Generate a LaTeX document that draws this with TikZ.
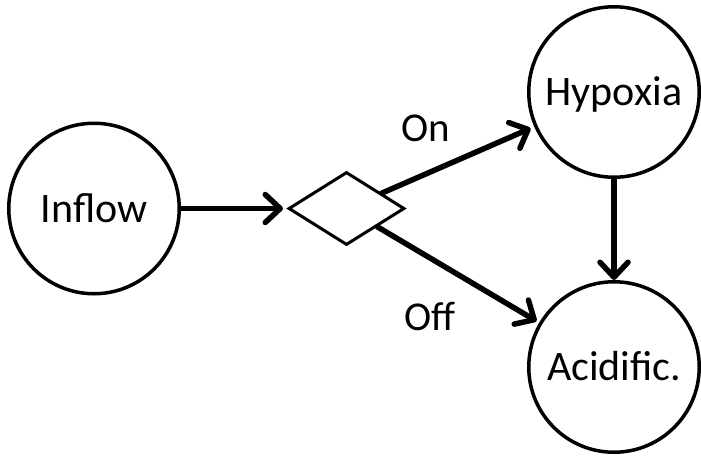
\documentclass[tikz,border=0pt]{standalone}
\usepackage{fontspec}
\setmainfont{Carlito}
\usetikzlibrary{shapes.geometric,arrows.meta}
\begin{document}
\begin{tikzpicture}[x=1pt,y=-1pt,
  state/.style={circle,draw,line width=3.5pt,minimum size=170.5pt,inner sep=0pt,
    font=\fontsize{42}{50}\selectfont,text height=27pt,text depth=0pt},
  lbl/.style={font=\fontsize{41}{49}\selectfont,text height=26.4pt,text depth=0pt,inner sep=0pt},
  choice/.style={diamond,draw,line width=3pt,minimum width=116pt,minimum height=73pt,inner sep=0pt},
  flow/.style={line width=5.5pt,line cap=round,
    -{Straight Barb[length=15pt,width=28pt,line cap=round,line join=round]}}
]
\useasboundingbox (0,0) rectangle (701,456);
\node[state] (inflow) at (94,208.5) {Inflow};
\node[state] (hyp) at (614,92) {Hypoxia};
\node[state] (acid) at (614,367) {Acidific.};
\node[choice] (dec) at (346.5,208.5) {};
\node[lbl] (on) at (426,128.5) {On};
\node[lbl] (off) at (430,317) {Off};
\draw[flow,shorten >=4pt] (inflow) -- (dec);
\draw[flow,shorten >=4pt] (dec) -- (hyp);
\draw[flow,shorten >=3pt] (dec) -- (acid);
\draw[flow] (hyp) -- (acid);
\end{tikzpicture}
\end{document}
